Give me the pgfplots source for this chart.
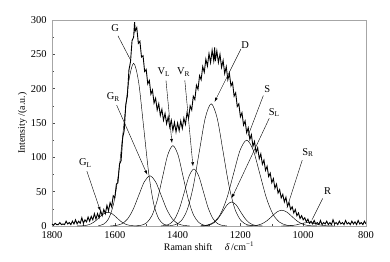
\documentclass[border=0pt]{standalone}
\usepackage{fontspec}
\setmainfont{Liberation Serif}
\usepackage{pgfplots}
\pgfplotsset{compat=1.18}
\begin{document}
\begin{tikzpicture}
\begin{axis}[
  scale only axis, width=314bp, height=206bp,
  x dir=reverse, xmin=800, xmax=1800, ymin=0, ymax=300,
  xtick={800,1000,...,1800}, ytick={0,50,...,300},
  minor x tick num=1, minor y tick num=1,
  xtick pos=bottom, ytick pos=left,
  tick align=inside,
  major tick length=3.5pt, minor tick length=2pt,
  axis line style={gray!70, line width=0.8pt},
  tick style={black!70, line width=0.5pt},
  /pgf/number format/assume math mode=true,
  /pgf/number format/1000 sep={},
  ticklabel style={font=\fontsize{10.5}{12}\selectfont},
  xticklabel style={yshift=-2.5pt},
  yticklabel style={xshift=-2pt},
  xlabel={Raman shift \quad\textit{δ}\,/cm\textsuperscript{−1}},
  ylabel={Intensity /(a.u.)},
  label style={font=\fontsize{10}{12}\selectfont},
  xlabel style={yshift=4pt},
  ylabel style={yshift=-3pt},
  clip=true,
]
% measured spectrum
\addplot[black, line width=0.9pt] coordinates {
(1800,3)(1795,1)(1790,4)(1785,2)(1780,2)(1775,5)(1770,2)(1765,3)(1760,2)(1755,7)
(1750,3)(1745,5)(1740,2)(1735,7)(1730,3)(1725,9)(1720,3)(1715,7)(1710,4)(1705,12)
(1700,4)(1695,9)(1690,6)(1685,13)(1680,7)(1675,14)(1670,9)(1665,18)(1660,10)(1655,18)
(1650,12)(1645,22)(1640,15)(1635,24)(1630,18)(1625,30)(1620,22)(1615,34)(1610,28)(1605,44)
(1600,41)(1595,61)(1590,63)(1585,90)(1580,95)(1575,128)(1570,139)(1565,177)(1560,189)(1555,227)
(1550,239)(1545,270)(1540,275)(1537,297)(1535,284)(1530,289)(1525,266)(1520,269)(1515,246)(1510,248)
(1505,225)(1500,228)(1495,207)(1490,212)(1485,192)(1480,198)(1475,179)(1470,186)(1465,169)(1460,178)
(1455,161)(1450,170)(1445,154)(1440,164)(1435,149)(1430,159)(1425,144)(1420,154)(1415,139)(1410,151)
(1405,137)(1400,150)(1395,139)(1390,153)(1385,142)(1380,157)(1375,148)(1370,165)(1365,157)(1360,175)
(1355,169)(1350,189)(1345,184)(1340,205)(1335,199)(1330,219)(1325,213)(1320,232)(1315,224)(1310,243)
(1305,233)(1300,251)(1295,238)(1290,256)(1285,241)(1282,260)(1280,240)(1275,255)(1270,238)(1265,250)
(1260,231)(1255,241)(1250,222)(1245,232)(1240,213)(1235,222)(1230,204)(1225,209)(1220,189)(1215,194)
(1210,174)(1205,178)(1200,159)(1195,165)(1190,147)(1185,153)(1180,136)(1175,143)(1170,126)(1165,133)
(1160,116)(1155,123)(1150,107)(1145,114)(1140,98)(1135,105)(1130,90)(1125,96)(1120,81)(1115,87)
(1110,72)(1105,77)(1100,63)(1095,69)(1090,55)(1085,61)(1080,48)(1075,53)(1070,41)(1065,46)
(1060,35)(1055,42)(1050,29)(1045,34)(1040,24)(1035,28)(1030,19)(1025,24)(1020,15)(1015,19)
(1010,11)(1005,15)(1000,9)(995,12)(990,6)(985,10)(980,4)(975,7)(970,3)(965,8)
(960,3)(955,5)(950,2)(945,8)(940,2)(935,5)(930,3)(925,7)(920,2)(915,5)
(910,2)(905,9)(900,3)(895,5)(890,2)(885,7)(880,3)(875,5)(870,2)(865,8)
(860,3)(855,5)(850,2)(845,7)(840,3)(835,6)(830,2)(825,8)(820,3)(815,5)
(810,2)(805,7)(800,3)
};
% fitted components
% G_L
\addplot[black, line width=0.45pt, smooth] coordinates {
(1720,0.04)(1706,0.22)(1692,0.88)(1678,2.71)(1664,6.49)(1650,12.13)(1636,17.65)(1622,20)
(1608,17.65)(1594,12.13)(1580,6.49)(1566,2.71)(1552,0.88)(1538,0.22)(1524,0.04)};
% G
\addplot[black, line width=0.45pt, smooth] coordinates {
(1652,0.52)(1636,2.63)(1620,10.4)(1604,32.1)(1588,77.0)(1572,143.7)(1556,209.2)(1540,237)
(1524,209.2)(1508,143.7)(1492,77.0)(1476,32.1)(1460,10.4)(1444,2.63)(1428,0.52)};
% G_R
\addplot[black, line width=0.45pt, smooth] coordinates {
(1614,0.16)(1596,0.81)(1578,3.20)(1560,9.88)(1542,23.7)(1524,44.3)(1506,64.4)(1488,73)
(1470,64.4)(1452,44.3)(1434,23.7)(1416,9.88)(1398,3.20)(1380,0.81)(1362,0.16)};
% V_L
\addplot[black, line width=0.45pt, smooth] coordinates {
(1530.5,0.26)(1514,1.30)(1497.5,5.14)(1481,15.8)(1464.5,38.0)(1448,71.0)(1431.5,103.3)(1415,117)
(1398.5,103.3)(1382,71.0)(1365.5,38.0)(1349,15.8)(1332.5,5.14)(1316,1.30)(1299.5,0.26)};
% V_R
\addplot[black, line width=0.45pt, smooth] coordinates {
(1453,0.18)(1438,0.92)(1423,3.64)(1408,11.2)(1393,26.9)(1378,50.3)(1363,73.2)(1348,83)
(1333,73.2)(1318,50.3)(1303,26.9)(1288,11.2)(1273,3.64)(1258,0.92)(1243,0.18)};
% D
\addplot[black, line width=0.45pt, smooth] coordinates {
(1426,0.39)(1407,1.98)(1388,7.81)(1369,24.1)(1350,57.8)(1331,108.0)(1312,157.1)(1293,178)
(1274,157.1)(1255,108.0)(1236,57.8)(1217,24.1)(1198,7.81)(1179,1.98)(1160,0.39)};
% S_L
\addplot[black, line width=0.45pt, smooth] coordinates {
(1326,0.08)(1312,0.39)(1298,1.54)(1284,4.74)(1270,11.4)(1256,21.2)(1242,30.9)(1228,35)
(1214,30.9)(1200,21.2)(1186,11.4)(1172,4.74)(1158,1.54)(1144,0.39)(1130,0.08)};
% S
\addplot[black, line width=0.45pt, smooth] coordinates {
(1327,0.28)(1306,1.39)(1285,5.49)(1264,16.9)(1243,40.6)(1222,75.8)(1201,110.3)(1180,125)
(1159,110.3)(1138,75.8)(1117,40.6)(1096,16.9)(1075,5.49)(1054,1.39)(1033,0.28)};
% S_R
\addplot[black, line width=0.45pt, smooth] coordinates {
(1180,0.05)(1164,0.26)(1148,1.01)(1132,3.11)(1116,7.47)(1100,13.9)(1084,20.3)(1068,23)
(1052,20.3)(1036,13.9)(1020,7.47)(1004,3.11)(988,1.01)(972,0.26)(956,0.05)};
% R
\addplot[black, line width=0.45pt, smooth] coordinates {
(1070,0.01)(1045,0.3)(1022,1.6)(1004,3.8)(985,5)(966,3.8)(948,1.6)(925,0.3)(900,0.01)};

% labels
\begin{scope}[font=\fontsize{10.5}{12}\selectfont, inner sep=0pt]
\node at (axis cs:1599,288) {G};
\draw[line width=0.4pt] (axis cs:1590,277) -- (axis cs:1549,241);
\node at (axis cs:1605,188) {G\textsubscript{R}};
\draw[-latex, line width=0.4pt] (axis cs:1594,176) -- (axis cs:1497,75);
\node at (axis cs:1694,92) {G\textsubscript{L}};
\draw[-latex, line width=0.4pt] (axis cs:1689,80) -- (axis cs:1646,22);
\node at (axis cs:1444,224) {V\textsubscript{L}};
\draw[-latex, line width=0.4pt] (axis cs:1437,212) -- (axis cs:1418,121);
\node at (axis cs:1381,224) {V\textsubscript{R}};
\draw[-latex, line width=0.4pt] (axis cs:1377,212) -- (axis cs:1351,87);
\node at (axis cs:1185,264) {D};
\draw[-latex, line width=0.4pt] (axis cs:1198,258) -- (axis cs:1282,181);
\node at (axis cs:1114,199) {S};
\draw[line width=0.4pt] (axis cs:1127,190) -- (axis cs:1176,131);
\node at (axis cs:1092,165) {S\textsubscript{L}};
\draw[-latex, line width=0.4pt] (axis cs:1108,157) -- (axis cs:1227,41);
\node at (axis cs:985,107) {S\textsubscript{R}};
\draw[line width=0.4pt] (axis cs:1003,96) -- (axis cs:1052,26);
\node at (axis cs:922,51) {R};
\draw[line width=0.4pt] (axis cs:938,40) -- (axis cs:972,9);
\end{scope}
\end{axis}
\pgfresetboundingbox
\path[use as bounding box] ([shift={(-52bp,-36bp)}]current axis.south west) rectangle ([shift={(24bp,20bp)}]current axis.north east);
\end{tikzpicture}
\end{document}
